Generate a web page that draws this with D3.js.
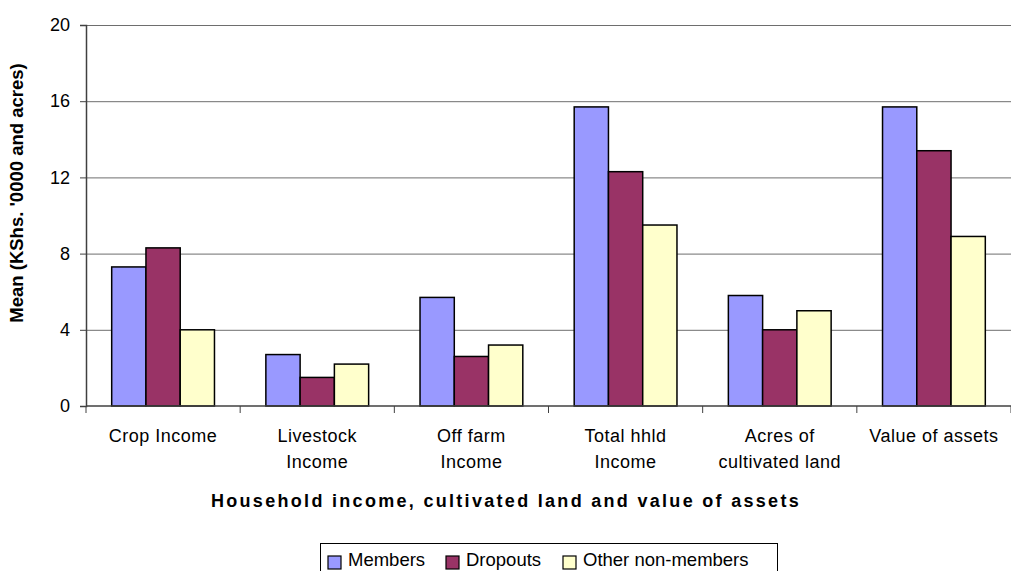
<!DOCTYPE html>
<html>
<head>
<meta charset="utf-8">
<script src="https://cdn.jsdelivr.net/npm/d3@7"></script>
<style>
  body { margin: 0; background: #fff; }
  svg { font-family: "Liberation Sans", Arial, sans-serif; display: block; }
</style>
</head>
<body>
<svg id="chart" width="1011" height="571"></svg>
<script>
// categories (two-line labels) and series
var categories = [
  ["Crop Income"],
  ["Livestock", "Income"],
  ["Off farm", "Income"],
  ["Total hhld", "Income"],
  ["Acres of", "cultivated land"],
  ["Value of assets"]
];
var seriesNames = ["Members", "Dropouts", "Other non-members"];
var members   = [7.3, 2.7, 5.7, 15.7, 5.8, 15.7];
var dropouts  = [8.3, 1.5, 2.6, 12.3, 4.0, 13.4];
var others    = [4.0, 2.2, 3.2, 9.5, 5.0, 8.9];
var yTicks = [0, 4, 8, 12, 16, 20];
var colors = ["#9999FF", "#993366", "#FFFFCC"];

var series = [members, dropouts, others];

var svg = d3.select("#chart");
var mLeft = 86, mRight = 1011, mTop = 25, mBottom = 406;

var x0 = d3.scaleBand().domain(d3.range(categories.length)).range([mLeft, mRight]).paddingInner(0).paddingOuter(0);
// excel gap width 150%: bar width = band / 4.5
var bw = x0.bandwidth() / 4.5;
var y = d3.scaleLinear().domain([0, 20]).range([mBottom, mTop]);

// gridlines
svg.append("g").selectAll("line").data(yTicks.filter(d => d > 0)).join("line")
  .attr("x1", mLeft).attr("x2", mRight)
  .attr("y1", d => y(d) + 0.5).attr("y2", d => y(d) + 0.5)
  .attr("stroke", "#6e6e6e").attr("stroke-width", 1);

// y axis
var yAxis = svg.append("g").attr("transform", "translate(" + mLeft + ",0)")
  .call(d3.axisLeft(y).tickValues(yTicks).tickSize(6).tickPadding(10).tickFormat(d3.format("d")));
yAxis.select(".domain").attr("stroke", "#404040").attr("stroke-width", 1.5);
yAxis.selectAll(".tick line").attr("stroke", "#404040");
yAxis.selectAll("text").attr("font-size", 18).attr("fill", "#000")
  .attr("font-family", "Liberation Sans, Arial, sans-serif");

// bars
series.forEach(function(vals, si) {
  svg.append("g").selectAll("rect").data(vals).join("rect")
    .attr("x", (d, i) => x0(i) + bw * 0.75 + si * bw)
    .attr("y", d => y(d))
    .attr("width", bw)
    .attr("height", d => y(0) - y(d))
    .attr("fill", colors[si])
    .attr("stroke", "#000")
    .attr("stroke-width", 1.5);
});

// x axis
var xAxis = svg.append("g").attr("transform", "translate(0," + mBottom + ")");
xAxis.append("line").attr("x1", mLeft).attr("x2", mRight).attr("y1", 0).attr("y2", 0)
  .attr("stroke", "#404040").attr("stroke-width", 1.5);
xAxis.selectAll(".ct").data(d3.range(categories.length + 1)).join("line")
  .attr("class", "ct")
  .attr("x1", i => i < categories.length ? x0(i) : mRight)
  .attr("x2", i => i < categories.length ? x0(i) : mRight)
  .attr("y1", 0).attr("y2", 7)
  .attr("stroke", "#404040").attr("stroke-width", 1);

var lab = svg.append("g").selectAll("text").data(categories).join("text")
  .attr("text-anchor", "middle")
  .attr("font-size", 18)
  .attr("letter-spacing", 0.5)
  .attr("fill", "#000");
lab.each(function(lines, i) {
  var t = d3.select(this);
  lines.forEach(function(s, k) {
    t.append("tspan").attr("x", x0(i) + x0.bandwidth() / 2).attr("y", 442 + k * 26).text(s);
  });
});

// axis titles
svg.append("text")
  .attr("x", 506).attr("y", 507)
  .attr("text-anchor", "middle").attr("font-size", 18).attr("font-weight", "bold")
  .attr("letter-spacing", 2.3)
  .text("Household income, cultivated land and value of assets");

svg.append("text")
  .attr("transform", "translate(23,193) rotate(-90)")
  .attr("text-anchor", "middle").attr("font-size", 18.5).attr("font-weight", "bold")
  .text("Mean (KShs. '0000 and acres)");

// legend
var lg = svg.append("g");
lg.append("rect").attr("x", 320.5).attr("y", 543.5).attr("width", 457).attr("height", 40)
  .attr("fill", "#fff").attr("stroke", "#000").attr("stroke-width", 1);
var legX = [328, 446, 563];
seriesNames.forEach(function(n, i) {
  lg.append("rect").attr("x", legX[i]).attr("y", 556).attr("width", 13).attr("height", 13)
    .attr("fill", colors[i]).attr("stroke", "#000").attr("stroke-width", 1.2);
  lg.append("text").attr("x", legX[i] + 20).attr("y", 566).attr("font-size", 18.5).attr("fill", "#000").text(n);
});
</script>
</body>
</html>
